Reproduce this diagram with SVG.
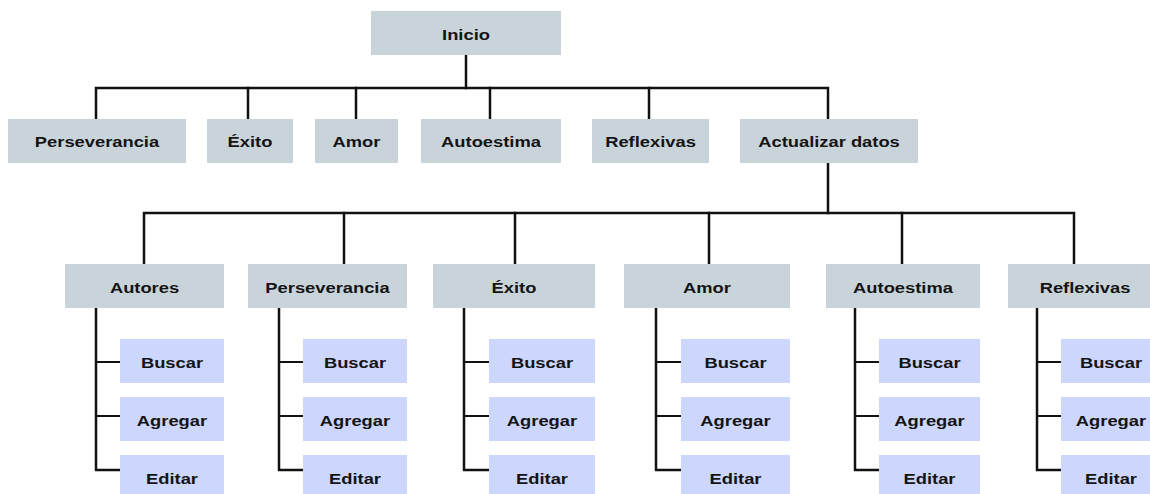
<svg xmlns="http://www.w3.org/2000/svg" width="1150" height="494" viewBox="0 0 1150 494">
  <style>
    .main { fill: #c9d3da; }
    .sub { fill: #cdd6fd; }
    .lbl { font-family: "Liberation Sans", Arial, sans-serif; font-weight: bold; font-size: 14px; fill: #141414; text-anchor: middle; }
    .wire { stroke: #111; stroke-width: 2.5; fill: none; stroke-linecap: square; }
    .tick { stroke: #111; stroke-width: 2; fill: none; }
  </style>
  <rect width="1150" height="494" fill="#ffffff"/>

  <!-- connectors -->
  <g id="connectors">
    <!-- Inicio to first level -->
    <line class="wire" x1="466" y1="56" x2="466" y2="88"/>
    <path class="wire" d="M96 118 V88 H828 V118"/>
    <line class="wire" x1="248" y1="88" x2="248" y2="118"/>
    <line class="wire" x1="356" y1="88" x2="356" y2="118"/>
    <line class="wire" x1="490" y1="88" x2="490" y2="118"/>
    <line class="wire" x1="649" y1="88" x2="649" y2="118"/>
    <!-- Actualizar datos to second level -->
    <line class="wire" x1="828" y1="164" x2="828" y2="213"/>
    <path class="wire" d="M144 263 V213 H1074 V263"/>
    <line class="wire" x1="344" y1="213" x2="344" y2="263"/>
    <line class="wire" x1="515" y1="213" x2="515" y2="263"/>
    <line class="wire" x1="709" y1="213" x2="709" y2="263"/>
    <line class="wire" x1="902" y1="213" x2="902" y2="263"/>
    <!-- stems with Buscar / Agregar / Editar branches -->
    <path class="wire" d="M96 309 V470 H120"/>
    <path class="tick" d="M96 362 H120 M96 416 H120"/>
    <path class="wire" d="M279 309 V470 H303"/>
    <path class="tick" d="M279 362 H303 M279 416 H303"/>
    <path class="wire" d="M464 309 V470 H489"/>
    <path class="tick" d="M464 362 H489 M464 416 H489"/>
    <path class="wire" d="M656 309 V470 H681"/>
    <path class="tick" d="M656 362 H681 M656 416 H681"/>
    <path class="wire" d="M855 309 V470 H879"/>
    <path class="tick" d="M855 362 H879 M855 416 H879"/>
    <path class="wire" d="M1037 309 V470 H1061"/>
    <path class="tick" d="M1037 362 H1061 M1037 416 H1061"/>
  </g>

  <!-- root -->
  <g id="inicio">
    <rect class="main" x="371" y="11" width="190" height="44"/>
    <text class="lbl" transform="translate(466 39.5) scale(1.31 1)">Inicio</text>
  </g>

  <!-- first level -->
  <g id="perseverancia">
    <rect class="main" x="8" y="119" width="178" height="44"/>
    <text class="lbl" transform="translate(97 147) scale(1.31 1)">Perseverancia</text>
  </g>
  <g id="exito">
    <rect class="main" x="207" y="119" width="86" height="44"/>
    <text class="lbl" transform="translate(250 147) scale(1.31 1)">Éxito</text>
  </g>
  <g id="amor">
    <rect class="main" x="315" y="119" width="83" height="44"/>
    <text class="lbl" transform="translate(356.5 147) scale(1.31 1)">Amor</text>
  </g>
  <g id="autoestima">
    <rect class="main" x="421" y="119" width="140" height="44"/>
    <text class="lbl" transform="translate(491 147) scale(1.31 1)">Autoestima</text>
  </g>
  <g id="reflexivas">
    <rect class="main" x="592" y="119" width="117" height="44"/>
    <text class="lbl" transform="translate(650.5 147) scale(1.31 1)">Reflexivas</text>
  </g>
  <g id="actualizar-datos">
    <rect class="main" x="740" y="119" width="178" height="44"/>
    <text class="lbl" transform="translate(829 147) scale(1.31 1)">Actualizar datos</text>
  </g>

  <!-- second level: Autores -->
  <g id="datos-autores">
    <rect class="main" x="65" y="264" width="159" height="44"/>
    <text class="lbl" transform="translate(144.5 292.5) scale(1.31 1)">Autores</text>
  </g>
  <g id="autores-buscar">
    <rect class="sub" x="120" y="339" width="104" height="44"/>
    <text class="lbl" transform="translate(172 368) scale(1.31 1)">Buscar</text>
  </g>
  <g id="autores-agregar">
    <rect class="sub" x="120" y="397" width="104" height="44"/>
    <text class="lbl" transform="translate(172 426) scale(1.31 1)">Agregar</text>
  </g>
  <g id="autores-editar">
    <rect class="sub" x="120" y="455" width="104" height="44"/>
    <text class="lbl" transform="translate(172 484) scale(1.31 1)">Editar</text>
  </g>

  <!-- second level: Perseverancia -->
  <g id="datos-perseverancia">
    <rect class="main" x="248" y="264" width="159" height="44"/>
    <text class="lbl" transform="translate(327.5 292.5) scale(1.31 1)">Perseverancia</text>
  </g>
  <g id="perseverancia-buscar">
    <rect class="sub" x="303" y="339" width="104" height="44"/>
    <text class="lbl" transform="translate(355 368) scale(1.31 1)">Buscar</text>
  </g>
  <g id="perseverancia-agregar">
    <rect class="sub" x="303" y="397" width="104" height="44"/>
    <text class="lbl" transform="translate(355 426) scale(1.31 1)">Agregar</text>
  </g>
  <g id="perseverancia-editar">
    <rect class="sub" x="303" y="455" width="104" height="44"/>
    <text class="lbl" transform="translate(355 484) scale(1.31 1)">Editar</text>
  </g>

  <!-- second level: Éxito -->
  <g id="datos-exito">
    <rect class="main" x="433" y="264" width="162" height="44"/>
    <text class="lbl" transform="translate(514 292.5) scale(1.31 1)">Éxito</text>
  </g>
  <g id="exito-buscar">
    <rect class="sub" x="489" y="339" width="106" height="44"/>
    <text class="lbl" transform="translate(542 368) scale(1.31 1)">Buscar</text>
  </g>
  <g id="exito-agregar">
    <rect class="sub" x="489" y="397" width="106" height="44"/>
    <text class="lbl" transform="translate(542 426) scale(1.31 1)">Agregar</text>
  </g>
  <g id="exito-editar">
    <rect class="sub" x="489" y="455" width="106" height="44"/>
    <text class="lbl" transform="translate(542 484) scale(1.31 1)">Editar</text>
  </g>

  <!-- second level: Amor -->
  <g id="datos-amor">
    <rect class="main" x="624" y="264" width="166" height="44"/>
    <text class="lbl" transform="translate(707 292.5) scale(1.31 1)">Amor</text>
  </g>
  <g id="amor-buscar">
    <rect class="sub" x="681" y="339" width="109" height="44"/>
    <text class="lbl" transform="translate(735.5 368) scale(1.31 1)">Buscar</text>
  </g>
  <g id="amor-agregar">
    <rect class="sub" x="681" y="397" width="109" height="44"/>
    <text class="lbl" transform="translate(735.5 426) scale(1.31 1)">Agregar</text>
  </g>
  <g id="amor-editar">
    <rect class="sub" x="681" y="455" width="109" height="44"/>
    <text class="lbl" transform="translate(735.5 484) scale(1.31 1)">Editar</text>
  </g>

  <!-- second level: Autoestima -->
  <g id="datos-autoestima">
    <rect class="main" x="826" y="264" width="154" height="44"/>
    <text class="lbl" transform="translate(903 292.5) scale(1.31 1)">Autoestima</text>
  </g>
  <g id="autoestima-buscar">
    <rect class="sub" x="879" y="339" width="101" height="44"/>
    <text class="lbl" transform="translate(929.5 368) scale(1.31 1)">Buscar</text>
  </g>
  <g id="autoestima-agregar">
    <rect class="sub" x="879" y="397" width="101" height="44"/>
    <text class="lbl" transform="translate(929.5 426) scale(1.31 1)">Agregar</text>
  </g>
  <g id="autoestima-editar">
    <rect class="sub" x="879" y="455" width="101" height="44"/>
    <text class="lbl" transform="translate(929.5 484) scale(1.31 1)">Editar</text>
  </g>

  <!-- second level: Reflexivas -->
  <g id="datos-reflexivas">
    <rect class="main" x="1008" y="264" width="154" height="44"/>
    <text class="lbl" transform="translate(1085 292.5) scale(1.31 1)">Reflexivas</text>
  </g>
  <g id="reflexivas-buscar">
    <rect class="sub" x="1061" y="339" width="101" height="44"/>
    <text class="lbl" transform="translate(1111 368) scale(1.31 1)">Buscar</text>
  </g>
  <g id="reflexivas-agregar">
    <rect class="sub" x="1061" y="397" width="101" height="44"/>
    <text class="lbl" transform="translate(1111 426) scale(1.31 1)">Agregar</text>
  </g>
  <g id="reflexivas-editar">
    <rect class="sub" x="1061" y="455" width="101" height="44"/>
    <text class="lbl" transform="translate(1111 484) scale(1.31 1)">Editar</text>
  </g>
</svg>
